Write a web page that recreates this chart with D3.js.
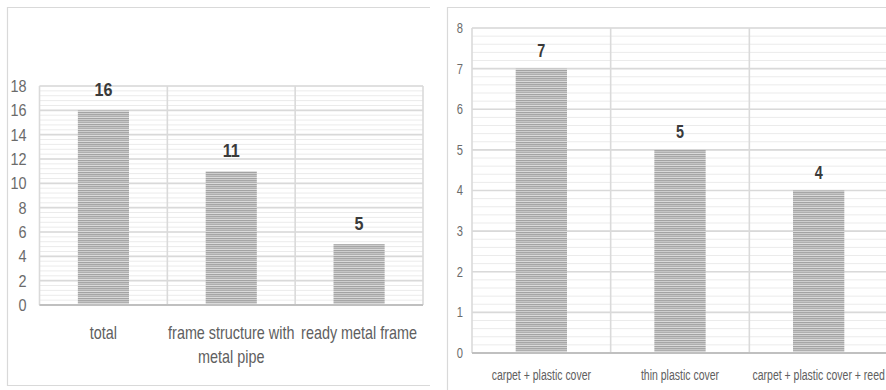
<!DOCTYPE html>
<html>
<head>
<meta charset="utf-8">
<script src="https://cdn.jsdelivr.net/npm/d3@7"></script>
<style>
  html, body { margin: 0; padding: 0; background: #fff; }
  svg { display: block; }
  text { font-family: "Liberation Sans", Arial, sans-serif; }
</style>
</head>
<body>
<svg id="chart" width="886" height="390"></svg>
<script>
// Left panel: greenhouse frame types
const frameCategories = ["total", "frame structure with|metal pipe", "ready metal frame"];
const frameValues = [16, 11, 5];
const frameTicks = [0, 2, 4, 6, 8, 10, 12, 14, 16, 18];

// Right panel: covering materials
const coverCategories = ["carpet + plastic cover", "thin plastic cover", "carpet + plastic cover + reed"];
const coverValues = [7, 5, 4];
const coverTicks = [0, 1, 2, 3, 4, 5, 6, 7, 8];

const svg = d3.select("#chart");

// Striped fill used for the bars
const defs = svg.append("defs");
const pat = defs.append("pattern")
  .attr("id", "stripes")
  .attr("patternUnits", "userSpaceOnUse")
  .attr("width", 10).attr("height", 6);
["#a6a6a6", "#c4c4c4", "#afafaf", "#dadada", "#a3a3a3", "#cdcdcd"].forEach((c, i) => {
  pat.append("rect").attr("x", 0).attr("y", i).attr("width", 10).attr("height", 1).attr("fill", c);
});

// Condense text horizontally around its anchor point
function squeeze(sel, sx) {
  sel.each(function() {
    const t = d3.select(this);
    const x = +t.attr("x") || 0;
    const y = +t.attr("y") || 0;
    t.attr("x", null).attr("y", null)
     .attr("transform", `translate(${x},${y}) scale(${sx},1)`);
  });
}

function drawPanel(cfg) {
  const g = svg.append("g");
  const x = d3.scaleBand().domain(cfg.categories).range([cfg.x0, cfg.x1]).paddingInner(0).paddingOuter(0);
  const y = d3.scaleLinear().domain([0, cfg.max]).range([cfg.yBottom, cfg.yTop]);

  // minor gridlines
  const minor = d3.range(0, cfg.max + 1e-9, cfg.minorStep);
  g.append("g").selectAll("line").data(minor).join("line")
    .attr("x1", cfg.x0).attr("x2", cfg.x1)
    .attr("y1", d => y(d)).attr("y2", d => y(d))
    .attr("stroke", "#ebebeb").attr("stroke-width", 1);

  // major gridlines
  g.append("g").selectAll("line").data(cfg.ticks).join("line")
    .attr("x1", cfg.x0).attr("x2", cfg.x1)
    .attr("y1", d => y(d)).attr("y2", d => y(d))
    .attr("stroke", "#d9d9d9").attr("stroke-width", 1.6);

  // vertical gridlines at category boundaries and plot edges
  const bounds = cfg.categories.map(c => x(c)).concat([cfg.x1]);
  g.append("g").selectAll("line").data(bounds).join("line")
    .attr("x1", d => d).attr("x2", d => d)
    .attr("y1", cfg.yTop).attr("y2", cfg.yBottom)
    .attr("stroke", "#dadada").attr("stroke-width", 1.6);

  // bars
  const bw = x.bandwidth() * cfg.barFrac;
  g.append("g").selectAll("rect").data(cfg.values).join("rect")
    .attr("x", (d, i) => x(cfg.categories[i]) + (x.bandwidth() - bw) / 2)
    .attr("width", bw)
    .attr("y", d => y(d))
    .attr("height", d => y(0) - y(d))
    .attr("fill", "url(#stripes)");

  // baseline
  g.append("line")
    .attr("x1", cfg.x0).attr("x2", cfg.x1)
    .attr("y1", y(0)).attr("y2", y(0))
    .attr("stroke", "#c0c0c0").attr("stroke-width", 2);

  // value labels
  const vl = g.append("g").selectAll("text").data(cfg.values).join("text")
    .attr("x", (d, i) => x(cfg.categories[i]) + x.bandwidth() / 2)
    .attr("y", d => y(d) - cfg.labelGap)
    .attr("text-anchor", "middle")
    .attr("font-size", cfg.valueSize)
    .attr("font-weight", "bold")
    .attr("fill", "#3a3a3a")
    .text(d => d);
  squeeze(vl, cfg.valueSx);

  // y axis
  const yAxis = d3.axisLeft(y).tickValues(cfg.ticks).tickSize(0).tickPadding(cfg.tickPad);
  const ya = g.append("g").attr("transform", `translate(${cfg.x0},0)`).call(yAxis);
  ya.select(".domain").remove();
  const yt = ya.selectAll("text")
    .attr("font-size", cfg.tickSize)
    .attr("font-family", "'Liberation Sans', Arial, sans-serif")
    .attr("fill", "#6b6b6b");
  squeeze(yt, cfg.tickSx);

  // x axis (category labels)
  const xAxis = d3.axisBottom(x).tickSize(0).tickPadding(0).tickFormat("");
  const xa = g.append("g").attr("transform", `translate(0,${cfg.yBottom})`).call(xAxis);
  xa.select(".domain").remove();
  xa.selectAll(".tick").each(function(d) {
    const lines = d.split("|");
    const t = d3.select(this).append("text")
      .attr("text-anchor", "middle")
      .attr("font-size", cfg.catSize)
      .attr("fill", "#606060")
      .attr("font-family", "'Liberation Sans', Arial, sans-serif")
      .attr("transform", `scale(${cfg.catSx},1)`);
    lines.forEach((ln, i) => {
      t.append("tspan").attr("x", 0).attr("y", cfg.catBaseline + i * cfg.catLine).text(ln);
    });
  });
}

// panel borders
svg.append("path")
  .attr("d", "M430,7.5 H7.5 V385.5 H430")
  .attr("fill", "none").attr("stroke", "#d9d9d9").attr("stroke-width", 1.2);
svg.append("path")
  .attr("d", "M447.5,395 V7.5 H890")
  .attr("fill", "none").attr("stroke", "#d9d9d9").attr("stroke-width", 1.2);

drawPanel({
  categories: frameCategories, values: frameValues, ticks: frameTicks,
  max: 18, minorStep: 0.4,
  x0: 39.5, x1: 423, yTop: 86, yBottom: 305,
  barFrac: 0.4, labelGap: 14, valueSize: 19, valueSx: 0.85,
  tickSize: 17, tickSx: 0.85, tickPad: 13,
  catSize: 18, catSx: 0.8, catBaseline: 34, catLine: 24
});

drawPanel({
  categories: coverCategories, values: coverValues, ticks: coverTicks,
  max: 8, minorStep: 0.2,
  x0: 472, x1: 888, yTop: 28, yBottom: 353,
  barFrac: 0.37, labelGap: 12, valueSize: 18, valueSx: 0.8,
  tickSize: 14, tickSx: 0.8, tickPad: 9,
  catSize: 14, catSx: 0.75, catBaseline: 27, catLine: 18
});
</script>
</body>
</html>
